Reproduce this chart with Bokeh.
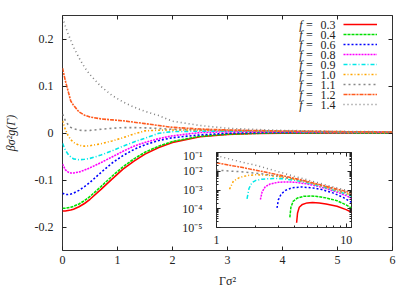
from bokeh.plotting import figure
from bokeh.models import (FixedTicker, LinearAxis, Legend, LegendItem,
                          CustomJSTickFormatter, Range1d)
from bokeh.core.properties import value
from bokeh.embed import file_html
from bokeh.resources import INLINE

FONT = "Liberation Serif"

# ---------------- data ----------------
f_labels = ["0.3", "0.4", "0.6", "0.8", "0.9", "1.0", "1.1", "1.2", "1.4"]

x_main = [0, 0.05, 0.1, 0.15, 0.2, 0.3, 0.4, 0.5, 0.7, 0.9, 1.1, 1.3, 1.5,
          1.75, 2.0, 2.5, 3.0, 3.5, 4.0, 5.0, 6.0]

g_03 = [-0.166, -0.166, -0.165, -0.164, -0.162, -0.157, -0.150, -0.141, -0.120,
        -0.098, -0.077, -0.060, -0.045, -0.031, -0.020, -0.008, -0.003, -0.001,
        -0.0003, 0.0002, 0.0002]
g_04 = [-0.160, -0.160, -0.159, -0.158, -0.156, -0.151, -0.144, -0.135, -0.114,
        -0.092, -0.072, -0.055, -0.041, -0.028, -0.018, -0.007, -0.0025, -0.0008,
        0.0003, 0.0004, 0.0003]
g_06 = [-0.128, -0.131, -0.131, -0.130, -0.128, -0.122, -0.114, -0.105, -0.084,
        -0.064, -0.048, -0.035, -0.025, -0.016, -0.010, -0.004, -0.0005, 0.0008,
        0.0012, 0.0013, 0.001]
g_08 = [-0.066, -0.078, -0.083, -0.085, -0.085, -0.083, -0.079, -0.074, -0.063,
        -0.051, -0.039, -0.028, -0.020, -0.012, -0.006, 0.001, 0.0026, 0.0027,
        0.0026, 0.0021, 0.0016]
g_09 = [-0.022, -0.036, -0.045, -0.051, -0.055, -0.057, -0.056, -0.054, -0.047,
        -0.038, -0.028, -0.019, -0.011, -0.0005, 0.003, 0.0039, 0.004, 0.0038,
        0.0033, 0.0024, 0.0017]
g_10 = [0.026, 0.008, -0.005, -0.014, -0.020, -0.026, -0.028, -0.027, -0.023,
        -0.017, -0.010, -0.002, 0.0046, 0.006, 0.0065, 0.0062, 0.0053, 0.0045,
        0.0037, 0.0026, 0.0019]
g_11 = [0.040, 0.027, 0.018, 0.012, 0.009, 0.006, 0.005, 0.0055, 0.008, 0.010,
        0.0115, 0.0115, 0.011, 0.0095, 0.008, 0.0066, 0.0055, 0.0045, 0.0038,
        0.0027, 0.002]
g_12 = [0.138, 0.112, 0.090, 0.068, 0.059, 0.045, 0.038, 0.034, 0.030, 0.028,
        0.026, 0.023, 0.020, 0.016, 0.012, 0.0085, 0.0065, 0.0052, 0.0042,
        0.0029, 0.0021]
g_14 = [0.245, 0.228, 0.212, 0.197, 0.183, 0.160, 0.140, 0.124, 0.099, 0.080,
        0.066, 0.055, 0.046, 0.037, 0.025, 0.016, 0.010, 0.0075, 0.0055, 0.0035,
        0.0025]

# inset (log-log, positive part)
ix_03 = [4.15, 4.22, 4.35, 4.6, 5.0, 5.5, 6.2, 7.0, 8.5, 10.0, 11.0]
iy_03 = [1.8e-5, 6e-5, 1.2e-4, 1.7e-4, 2.05e-4, 2.15e-4, 2.05e-4, 1.8e-4, 1.35e-4, 9e-5, 6.5e-5]
ix_04 = [3.68, 3.75, 3.9, 4.2, 4.7, 5.3, 6.0, 7.0, 8.5, 10.0, 11.0]
iy_04 = [3.5e-5, 1.2e-4, 2.5e-4, 3.7e-4, 4.6e-4, 4.8e-4, 4.5e-4, 3.8e-4, 2.7e-4, 1.6e-4, 1.1e-4]
ix_06 = [2.93, 3.0, 3.15, 3.4, 3.8, 4.5, 5.5, 6.5, 8.0, 9.5, 11.0]
iy_06 = [1.1e-4, 3e-4, 6e-4, 9.5e-4, 1.3e-3, 1.45e-3, 1.3e-3, 1.05e-3, 6.8e-4, 4e-4, 2.2e-4]
ix_08 = [2.18, 2.25, 2.38, 2.6, 3.0, 3.5, 4.0, 5.0, 6.0, 7.0, 8.0, 9.0, 10.0, 11.0]
iy_08 = [3.1e-4, 8e-4, 1.5e-3, 2.1e-3, 2.6e-3, 2.7e-3, 2.6e-3, 2.1e-3, 1.6e-3, 1.2e-3, 8.8e-4, 6.7e-4, 5.0e-4, 3.6e-4]
ix_09 = [1.72, 1.78, 1.88, 2.0, 2.25, 2.75, 3.2, 4.0, 5.0, 6.0, 7.0, 8.0, 9.0, 10.0, 11.0]
iy_09 = [3.4e-4, 1.2e-3, 2.5e-3, 3.2e-3, 3.8e-3, 4.1e-3, 4.0e-3, 3.3e-3, 2.4e-3, 1.75e-3, 1.3e-3, 9.8e-4, 7.6e-4, 6.0e-4, 4.6e-4]
ix_10 = [1.26, 1.35, 1.5, 1.75, 2.0, 2.5, 3.0, 4.0, 5.0, 6.0, 7.0, 8.0, 9.0, 10.0, 11.0]
iy_10 = [1.1e-3, 3e-3, 4.6e-3, 6e-3, 6.5e-3, 6.2e-3, 5.3e-3, 3.7e-3, 2.6e-3, 1.9e-3, 1.4e-3, 1.05e-3, 8.3e-4, 6.6e-4, 5.3e-4]
ix_hi = [1, 1.5, 2, 3, 4, 5, 6, 7, 8, 9, 10, 11]
iy_11 = [1.15e-2, 9.5e-3, 8e-3, 5.5e-3, 3.8e-3, 2.7e-3, 2.0e-3, 1.5e-3, 1.15e-3, 9e-4, 7.3e-4, 6e-4]
iy_12 = [2.8e-2, 1.7e-2, 1.15e-2, 6.5e-3, 4.2e-3, 2.9e-3, 2.1e-3, 1.6e-3, 1.25e-3, 1.0e-3, 8.3e-4, 7e-4]
iy_14 = [6.8e-2, 3.3e-2, 2.1e-2, 9.5e-3, 5.3e-3, 3.5e-3, 2.5e-3, 1.85e-3, 1.45e-3, 1.17e-3, 9.6e-4, 8.1e-4]

x_ticks = [0, 1, 2, 3, 4, 5, 6]
x_tick_labels = ["0", "1", "2", "3", "4", "5", "6"]
y_ticks = [-0.2, -0.1, 0.0, 0.1, 0.2]
y_tick_labels = ["-0.2", "-0.1", "0", "0.1", "0.2"]
ix_ticks = [1, 10]
ix_tick_labels = ["1", "10"]
iy_ticks = [1e-5, 1e-4, 1e-3, 1e-2, 1e-1]
iy_tick_labels = ["10\u207b\u2075", "10\u207b\u2074", "10\u207b\u00b3", "10\u207b\u00b2", "10\u207b\u00b9"]

main_y = [g_03, g_04, g_06, g_08, g_09, g_10, g_11, g_12, g_14]
ins = [(ix_03, iy_03), (ix_04, iy_04), (ix_06, iy_06), (ix_08, iy_08), (ix_09, iy_09),
       (ix_10, iy_10), (ix_hi, iy_11), (ix_hi, iy_12), (ix_hi, iy_14)]

# ---------------- styles ----------------
colors = ["#ff0000", "#00e000", "#0000ff", "#ff00ff", "#00e8e8", "#ffa500",
          "#888888", "#ff5a1e", "#808080"]
dashes = ["solid", "3 1", "2 2", "2 1", "4 2 1 2", "2 2 1 2",
          "2 3", "4 1 2 1", "1 3"]
AX = "#222222"


def fmt(vals, labels):
    return CustomJSTickFormatter(args=dict(vals=vals, labels=labels), code="""
        const i = vals.findIndex(v => Math.abs(v - tick) <= 1e-6 * Math.max(Math.abs(v), 1e-12));
        return i >= 0 ? labels[i] : "";
    """)


def style_axis(ax, tick_in=4, show_labels=True, minor_in=0):
    ax.axis_line_color = None
    ax.major_tick_in = tick_in
    ax.major_tick_out = 0
    ax.major_tick_line_color = AX
    ax.minor_tick_in = minor_in
    ax.minor_tick_out = 0
    ax.minor_tick_line_color = AX if minor_in else None
    ax.major_label_text_font = FONT
    ax.axis_label_text_font = FONT
    ax.axis_label_text_color = AX
    if show_labels:
        ax.major_label_text_font_size = "12px"
        ax.major_label_text_color = AX
    else:
        ax.major_label_text_font_size = "1px"
        ax.major_label_text_color = None
        ax.major_label_standoff = 0


# ---------------- main figure ----------------
p = figure(width=414, height=291,
           x_range=Range1d(0, 6), y_range=Range1d(-0.25, 0.25),
           output_backend="svg", toolbar_location=None,
           min_border_left=62, min_border_right=22, min_border_top=15, min_border_bottom=41)
p.xgrid.visible = False
p.ygrid.visible = False
p.outline_line_color = "#333333"
p.outline_line_width = 1
p.background_fill_color = "white"

p.xaxis.ticker = FixedTicker(ticks=x_ticks)
p.xaxis.formatter = fmt(x_ticks, x_tick_labels)
p.yaxis.ticker = FixedTicker(ticks=y_ticks)
p.yaxis.formatter = fmt(y_ticks, y_tick_labels)
style_axis(p.xaxis[0])
style_axis(p.yaxis[0])
p.xaxis.major_label_standoff = 5
p.yaxis.major_label_standoff = 9
p.xaxis.axis_label = "\u0393\u03c3\u00b2"
p.yaxis.axis_label = "\u03b2\u03c3\u00b2g(\u0393)"
p.xaxis.axis_label_text_font_size = "12px"
p.yaxis.axis_label_text_font_size = "12px"
p.xaxis.axis_label_text_font_style = "normal"
p.yaxis.axis_label_text_font_style = "italic"
p.xaxis.axis_label_standoff = 7
p.yaxis.axis_label_standoff = 14

top = LinearAxis(ticker=FixedTicker(ticks=x_ticks))
style_axis(top, show_labels=False)
p.add_layout(top, "above")
right = LinearAxis(ticker=FixedTicker(ticks=y_ticks))
style_axis(right, show_labels=False)
p.add_layout(right, "right")

renderers = []
for yv, c, d in zip(main_y, colors, dashes):
    r = p.line(x_main, yv, line_color=c, line_width=1.6, line_dash=d)
    renderers.append(r)

legend = Legend(items=[LegendItem(label=" ", renderers=[r]) for r in renderers],
                location=(281, 141), glyph_width=34, glyph_height=10, label_height=10,
                spacing=0, padding=0, margin=0, label_standoff=0,
                label_text_font_size="10px", label_text_color=None,
                background_fill_alpha=0, border_line_alpha=0)
p.add_layout(legend)

n = len(f_labels)
leg_y = [0.25 - (9 + 10 * i) / 470 for i in range(n)]
p.text(x=[(302 - 62) / 55] * n, y=leg_y, text=["f"] * n, text_font=value(FONT),
       text_font_style="italic", text_font_size="12px", text_align="right",
       text_baseline="middle", text_color=AX)
p.text(x=[(309 - 62) / 55] * n, y=leg_y, text=["="] * n, text_font=value(FONT),
       text_font_size="12px", text_align="center", text_baseline="middle", text_color=AX)
p.text(x=[(335 - 62) / 55] * n, y=leg_y, text=f_labels, text_font=value(FONT),
       text_font_size="12px", text_align="right", text_baseline="middle", text_color=AX)

# ---------------- inset ----------------
q = figure(width=179, height=101, x_axis_type="log", y_axis_type="log",
           x_range=Range1d(1, 11), y_range=Range1d(1e-5, 1e-1),
           output_backend="svg", toolbar_location=None,
           min_border_left=40, min_border_right=4, min_border_top=4, min_border_bottom=22,
           styles={"position": "absolute", "left": "176px", "top": "148px"})
q.border_fill_alpha = 0
q.background_fill_color = "white"
q.outline_line_color = "#333333"
q.xgrid.visible = False
q.ygrid.visible = False

x_minor = [k for k in range(2, 10)] + [11]
y_minor = [k * 10.0 ** e for e in range(-5, -1) for k in range(2, 10)]
q.xaxis.ticker = FixedTicker(ticks=ix_ticks, minor_ticks=x_minor)
q.xaxis.formatter = fmt(ix_ticks, ix_tick_labels)
q.yaxis.ticker = FixedTicker(ticks=iy_ticks, minor_ticks=y_minor)
q.yaxis.formatter = fmt(iy_ticks, iy_tick_labels)
style_axis(q.xaxis[0], tick_in=4, minor_in=2)
style_axis(q.yaxis[0], tick_in=4, minor_in=2)
q.xaxis.major_label_standoff = 8
q.yaxis.major_label_standoff = 14

qt = LinearAxis(ticker=FixedTicker(ticks=ix_ticks, minor_ticks=x_minor))
style_axis(qt, tick_in=4, show_labels=False, minor_in=2)
q.add_layout(qt, "above")
qr = LinearAxis(ticker=FixedTicker(ticks=iy_ticks, minor_ticks=y_minor))
style_axis(qr, tick_in=4, show_labels=False, minor_in=2)
q.add_layout(qr, "right")

for (xv, yv), c, d in zip(ins, colors, dashes):
    q.line(xv, yv, line_color=c, line_width=1.5, line_dash=d)

open("out.html", "w").write(file_html([p, q], INLINE))
